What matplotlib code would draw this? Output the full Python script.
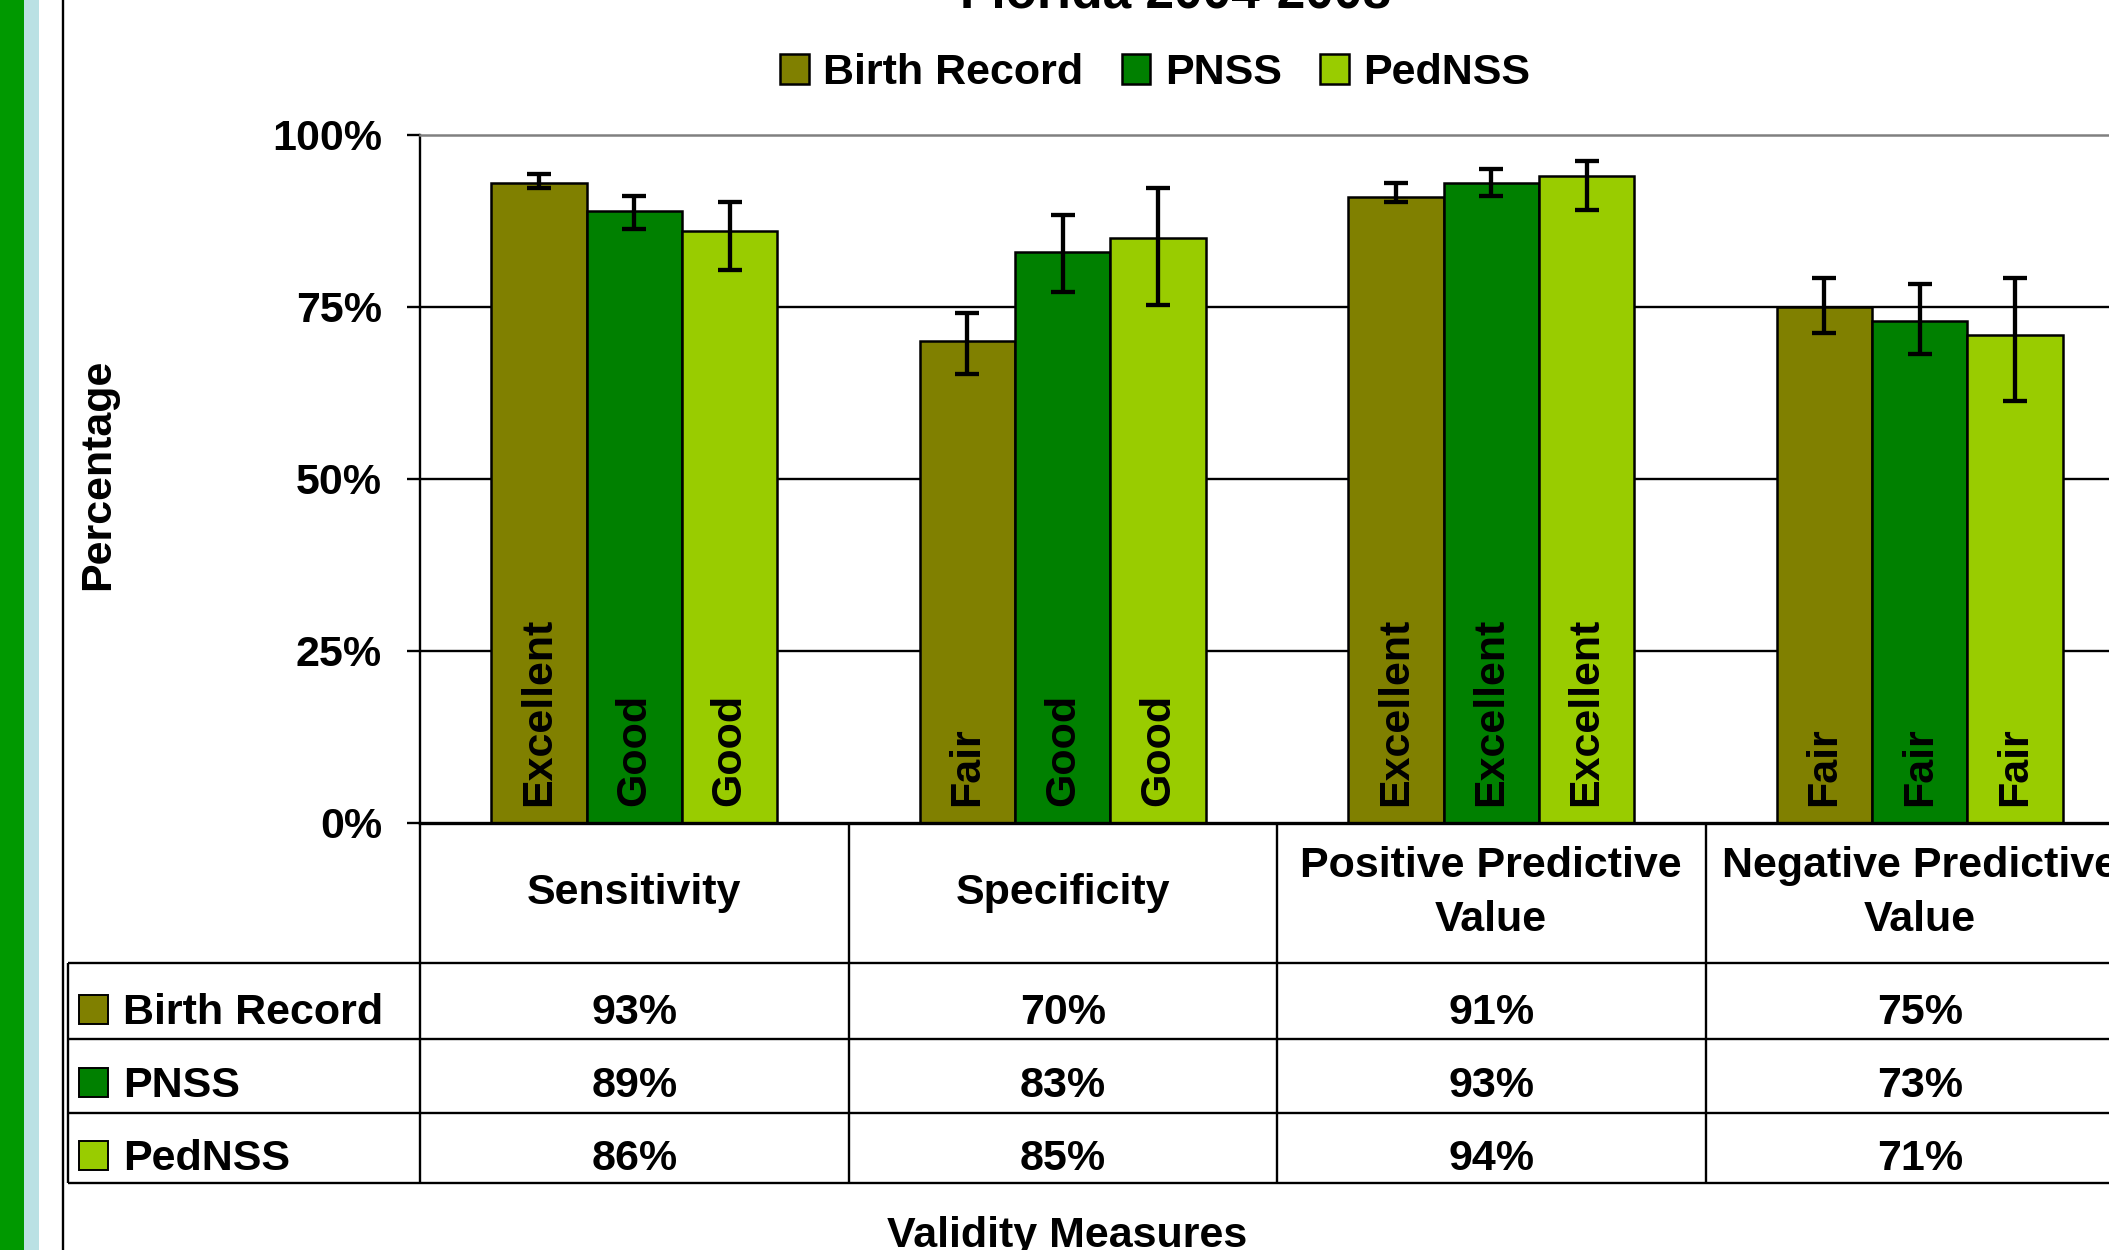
import numpy as np
import matplotlib.pyplot as plt
from matplotlib.patches import Rectangle

plt.rcParams['font.family'] = ['Liberation Sans', 'DejaVu Sans']
plt.rcParams['font.weight'] = 'bold'

# data
measures = ['Sensitivity', 'Specificity', 'Positive Predictive\nValue', 'Negative Predictive\nValue']
sources = ['Birth Record', 'PNSS', 'PedNSS']
colors = ['#808000', '#008000', '#99CC00']

birth_record = [93, 70, 91, 75]
pnss = [89, 83, 93, 73]
pednss = [86, 85, 94, 71]

# confidence limits (estimated from the error bars)
birth_lo = [92.3, 65.3, 90.3, 71.2]
birth_hi = [94.3, 74.1, 93.0, 79.2]
pnss_lo = [86.3, 77.2, 91.1, 68.1]
pnss_hi = [91.1, 88.3, 95.0, 78.3]
pednss_lo = [80.4, 75.3, 89.1, 61.3]
pednss_hi = [90.3, 92.3, 96.2, 79.2]

birth_rating = ['Excellent', 'Fair', 'Excellent', 'Fair']
pnss_rating = ['Good', 'Good', 'Excellent', 'Fair']
pednss_rating = ['Good', 'Good', 'Excellent', 'Fair']

yticks = [0, 25, 50, 75, 100]

values = [birth_record, pnss, pednss]
lows = [birth_lo, pnss_lo, pednss_lo]
highs = [birth_hi, pnss_hi, pednss_hi]
ratings = [birth_rating, pnss_rating, pednss_rating]

FS = 31
W, H = 2109, 1250
fig = plt.figure(figsize=(W / 100, H / 100), dpi=100)

# plot area in pixels (it runs past the right edge, like the original)
X0, CW = 420, 428.5
Y0, Y100 = 823, 135
ax = fig.add_axes([X0 / W, 1 - Y0 / H, 4 * CW / W, (Y0 - Y100) / H])

x = np.arange(len(measures)) + 0.5
bw = 0.2225
handles = []
for j in range(len(sources)):
    xs = x + (j - 1) * bw
    v = np.array(values[j], dtype=float)
    b = ax.bar(xs, v, bw, color=colors[j], edgecolor='black', linewidth=1.8,
               zorder=2, label=sources[j])
    handles.append(b)
    err = [v - np.array(lows[j]), np.array(highs[j]) - v]
    ax.errorbar(xs, v, yerr=err, fmt='none', ecolor='black', elinewidth=3.1,
                capsize=8.5, capthick=3.1, zorder=3)
    for xi, r in zip(xs, ratings[j]):
        ax.text(xi, 2.4, r, rotation=90, ha='center', va='bottom',
                fontsize=FS, fontweight='bold', zorder=4)

ax.set_xlim(0, 4)
ax.set_ylim(0, 100)
ax.set_xticks([])
ax.set_yticks(yticks)
ax.set_yticklabels([f'{t}%' for t in yticks])
ax.tick_params(axis='y', length=9.4, width=1.7, pad=18, labelsize=FS)
ax.hlines(yticks[1:-1], 0, 4, colors='black', lw=1.7, zorder=1)
ax.spines['right'].set_visible(False)
ax.spines['top'].set_color('#808080')
ax.spines['top'].set_linewidth(1.8)
ax.spines['left'].set_linewidth(1.7)
ax.spines['bottom'].set_linewidth(2.4)

# overlay in pixel coordinates for the frame and the data table
ov = fig.add_axes([0, 0, 1, 1])
ov.set_xlim(0, W)
ov.set_ylim(H, 0)
ov.axis('off')
ov.add_patch(Rectangle((0, 0), 24, H, color='#009900', lw=0))
ov.add_patch(Rectangle((24, 0), 15, H, color='#BAE1E4', lw=0))
ov.vlines(63, 0, H, colors='black', lw=1.7)

row_lines = [963, 1039, 1113, 1183]
ov.hlines(row_lines, 68, W, colors='black', lw=1.7)
ov.vlines(68, row_lines[0], row_lines[-1], colors='black', lw=1.7)
for i in range(len(measures) + 1):
    ov.vlines(X0 + i * CW, Y0, row_lines[-1], colors='black', lw=1.7)

for i, m in enumerate(measures):
    ov.text(X0 + (i + 0.5) * CW, 893, m, ha='center', va='center',
            fontsize=FS, fontweight='bold', linespacing=1.45)

row_base = [1024, 1097, 1170]
for r in range(len(sources)):
    yb = row_base[r]
    ov.add_patch(Rectangle((79, yb - 29), 29, 29, facecolor=colors[r],
                           edgecolor='black', lw=1.4))
    ov.text(123, yb, sources[r], ha='left', va='baseline', fontsize=FS,
            fontweight='bold')
    for i, val in enumerate(values[r]):
        ov.text(X0 + (i + 0.5) * CW, yb, f'{val}%', ha='center', va='baseline',
                fontsize=FS, fontweight='bold')

# titles, legend, axis labels
fig.text(1176 / W, 1 - 7 / H, 'Florida 2004-2008', ha='center', va='baseline',
         fontsize=37, fontweight='bold')
fig.text(1067 / W, 3 / H, 'Validity Measures', ha='center', va='baseline',
         fontsize=FS, fontweight='bold')
fig.text(98 / W, 1 - 474 / H, 'Percentage', rotation=90, ha='center',
         va='center', fontsize=FS, fontweight='bold')

fig.legend(handles=handles, labels=sources, loc='center',
           bbox_to_anchor=(1155 / W, 1 - 73 / H), ncol=3, frameon=False,
           handlelength=0.67, handleheight=0.67, handletextpad=0.33,
           columnspacing=0.9, borderaxespad=0, borderpad=0,
           prop={'size': FS, 'weight': 'bold'})

fig.savefig('out.png', dpi=100)
